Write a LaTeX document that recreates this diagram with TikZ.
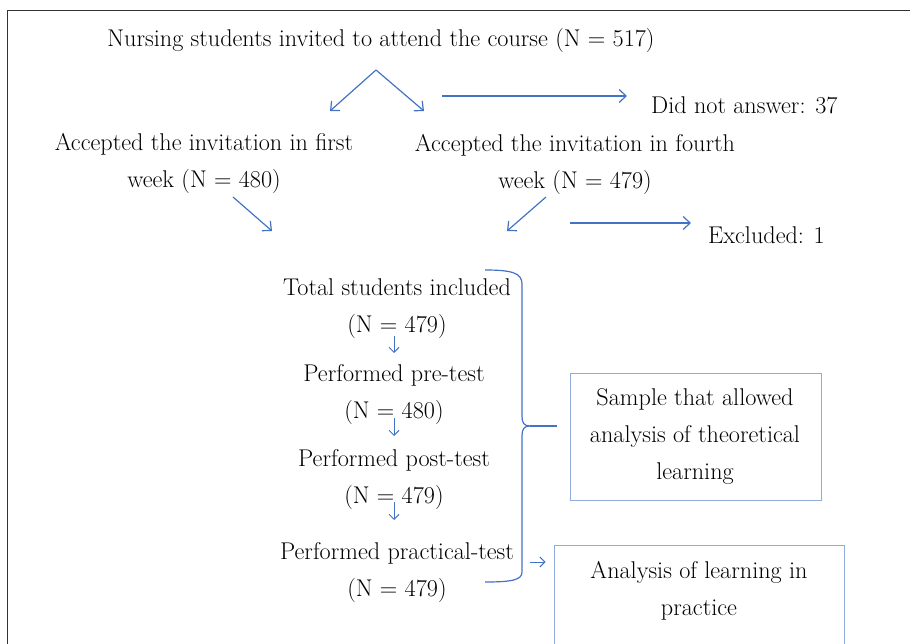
\documentclass[tikz,border=0pt]{standalone}
\usetikzlibrary{arrows.meta}
\definecolor{lineblue}{RGB}{68,114,196}
\definecolor{boxblue}{RGB}{143,170,220}
\tikzset{
  txt/.style={align=center,inner sep=0pt,font=\fontsize{24.2}{37}\selectfont},
  flow/.style={draw=lineblue,line width=1.2pt,-{Straight Barb[length=7pt,width=13pt]}},
  tiny/.style={draw=lineblue,line width=1pt,-{Straight Barb[length=5pt,width=10pt]}},
  box/.style={draw=boxblue,line width=1pt,inner sep=0pt}
}
\begin{document}
\begin{tikzpicture}[x=1pt,y=-1pt]
  \useasboundingbox (0,0) rectangle (910,644);
  \clip (0,0) rectangle (910,644);
  % Frame
  \draw[black!80,line width=1pt] (7,11) rectangle (930,680);

  % Invited students and the two groups
  \node[txt] (invited) at (381,40) {Nursing students invited to attend the course (N = 517)};
  \node[txt] (first) at (204,163) {Accepted the invitation in first\\week (N = 480)};
  \node[txt] (fourth) at (575,164) {Accepted the invitation in fourth\\week (N = 479)};
  \node[txt,anchor=west] (noanswer) at (651,105) {Did not answer: 37};
  \node[txt,anchor=west] (excluded) at (708,235) {Excluded: 1};

  % Arrow ends
  \coordinate (split) at (376,70);
  \coordinate (splitl) at (330,111);
  \coordinate (splitr) at (424,111);
  \coordinate (outa) at (442,96);
  \coordinate (outb) at (627,96);
  \coordinate (firsta) at (233,197);
  \coordinate (firstb) at (272,231);
  \coordinate (fourtha) at (546,197);
  \coordinate (fourthb) at (507,231);
  \coordinate (exa) at (570,223);
  \coordinate (exb) at (691,223);

  \draw[flow] (split) -- (splitl);
  \draw[flow] (split) -- (splitr);
  \draw[flow] (outa) -- (outb);
  \draw[flow] (firsta) -- (firstb);
  \draw[flow] (fourtha) -- (fourthb);
  \draw[flow] (exa) -- (exb);

  % Steps of the course
  \node[txt] (total) at (397,309) {Total students included\\(N = 479)};
  \node[txt] (pretest) at (394,395) {Performed pre-test\\(N = 480)};
  \node[txt] (posttest) at (394,480) {Performed post-test\\(N = 479)};
  \node[txt] (practical) at (397,573) {Performed practical-test\\(N = 479)};

  \draw[tiny] (394,336) -- (394,353);
  \draw[tiny] (394,418) -- (394,436);
  \draw[tiny] (394,502) -- (394,520);

  % Brace
  \coordinate (bracetip) at (530,426);
  \coordinate (braceend) at (557,426);
  \draw[lineblue,line width=1.2pt] (485,270) .. controls (512,270) and (522,273) .. (522,284)
    -- (522,416) .. controls (522,423) and (524,426) .. (bracetip)
    .. controls (524,426) and (522,429) .. (522,436)
    -- (522,572) .. controls (522,580) and (512,582) .. (485,582);
  \draw[lineblue,line width=1.2pt] (bracetip) -- (braceend);

  % Analysis boxes
  \node[box,minimum width=251,minimum height=127] (theory) at (695.5,436.5) {};
  \node[txt] (theorytxt) at (695,437) {Sample that allowed\\analysis of theoretical\\learning};
  \node[box,minimum width=290,minimum height=150,anchor=north] (practice) at (699,545) {};
  \node[txt] (practicetxt) at (699,591) {Analysis of learning in\\practice};

  \coordinate (pra) at (530,562);
  \draw[tiny] (pra) -- ([xshift=-8pt]practice.west |- pra);
\end{tikzpicture}
\end{document}
